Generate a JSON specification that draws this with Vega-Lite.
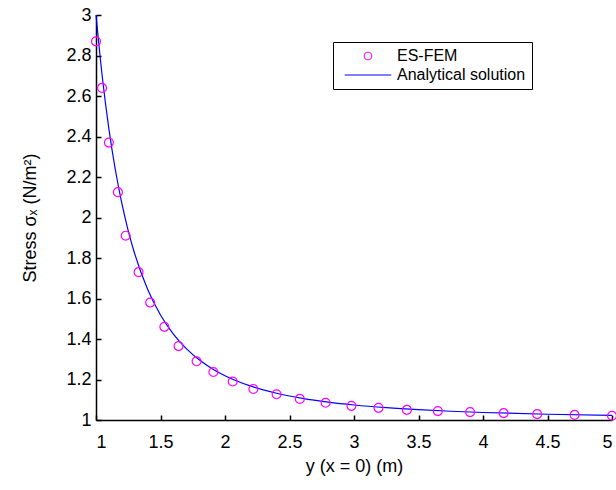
{
  "$schema": "https://vega.github.io/schema/vega-lite/v6.json",
  "autosize": "none",
  "width": 516,
  "height": 405,
  "padding": {"left": 96, "top": 15, "right": 4, "bottom": 70},
  "background": "white",
  "config": {
    "view": {"stroke": null},
    "font": "Liberation Sans",
    "axis": {"grid": false, "domainColor": "black", "tickColor": "black", "labelColor": "black", "titleColor": "black", "labelFont": "Liberation Sans", "titleFont": "Liberation Sans", "labelFontSize": 18, "titleFontSize": 18, "titleFontWeight": "normal", "tickSize": -5, "domainWidth": 1.5, "tickWidth": 1.5}
  },
  "data": {"values": [
    {"series": "ES-FEM", "y": 1.0, "s": 2.87},
    {"series": "ES-FEM", "y": 1.047, "s": 2.64},
    {"series": "ES-FEM", "y": 1.10, "s": 2.37},
    {"series": "ES-FEM", "y": 1.17, "s": 2.125},
    {"series": "ES-FEM", "y": 1.23, "s": 1.91},
    {"series": "ES-FEM", "y": 1.33, "s": 1.73},
    {"series": "ES-FEM", "y": 1.42, "s": 1.58},
    {"series": "ES-FEM", "y": 1.53, "s": 1.46},
    {"series": "ES-FEM", "y": 1.64, "s": 1.365},
    {"series": "ES-FEM", "y": 1.78, "s": 1.29},
    {"series": "ES-FEM", "y": 1.91, "s": 1.237},
    {"series": "ES-FEM", "y": 2.06, "s": 1.19},
    {"series": "ES-FEM", "y": 2.22, "s": 1.153},
    {"series": "ES-FEM", "y": 2.40, "s": 1.127},
    {"series": "ES-FEM", "y": 2.58, "s": 1.104},
    {"series": "ES-FEM", "y": 2.78, "s": 1.085},
    {"series": "ES-FEM", "y": 2.98, "s": 1.07},
    {"series": "ES-FEM", "y": 3.19, "s": 1.06},
    {"series": "ES-FEM", "y": 3.41, "s": 1.05},
    {"series": "ES-FEM", "y": 3.65, "s": 1.044},
    {"series": "ES-FEM", "y": 3.90, "s": 1.039},
    {"series": "ES-FEM", "y": 4.16, "s": 1.034},
    {"series": "ES-FEM", "y": 4.42, "s": 1.029},
    {"series": "ES-FEM", "y": 4.71, "s": 1.025},
    {"series": "ES-FEM", "y": 5.0, "s": 1.021},
    {"series": "Analytical solution", "y": 1.0, "s": 3.0},
    {"series": "Analytical solution", "y": 1.05, "s": 2.6876},
    {"series": "Analytical solution", "y": 1.1, "s": 2.4377},
    {"series": "Analytical solution", "y": 1.15, "s": 2.2357},
    {"series": "Analytical solution", "y": 1.2, "s": 2.0706},
    {"series": "Analytical solution", "y": 1.25, "s": 1.9344},
    {"series": "Analytical solution", "y": 1.3, "s": 1.8211},
    {"series": "Analytical solution", "y": 1.4, "s": 1.6456},
    {"series": "Analytical solution", "y": 1.5, "s": 1.5185},
    {"series": "Analytical solution", "y": 1.6, "s": 1.4242},
    {"series": "Analytical solution", "y": 1.7, "s": 1.3526},
    {"series": "Analytical solution", "y": 1.8, "s": 1.2972},
    {"series": "Analytical solution", "y": 1.9, "s": 1.2536},
    {"series": "Analytical solution", "y": 2.0, "s": 1.2188},
    {"series": "Analytical solution", "y": 2.2, "s": 1.1673},
    {"series": "Analytical solution", "y": 2.4, "s": 1.132},
    {"series": "Analytical solution", "y": 2.6, "s": 1.1068},
    {"series": "Analytical solution", "y": 2.8, "s": 1.0882},
    {"series": "Analytical solution", "y": 3.0, "s": 1.0741},
    {"series": "Analytical solution", "y": 3.25, "s": 1.0608},
    {"series": "Analytical solution", "y": 3.5, "s": 1.0508},
    {"series": "Analytical solution", "y": 3.75, "s": 1.0432},
    {"series": "Analytical solution", "y": 4.0, "s": 1.0371},
    {"series": "Analytical solution", "y": 4.5, "s": 1.0284},
    {"series": "Analytical solution", "y": 5.0, "s": 1.0224}
  ]},
  "encoding": {
    "x": {"field": "y", "type": "quantitative", "scale": {"domain": [1, 5], "nice": false, "zero": false},
      "axis": {"values": [1, 1.5, 2, 2.5, 3, 3.5, 4, 4.5, 5], "format": "~g", "title": "y (x = 0) (m)", "labelPadding": 18, "titlePadding": 6}},
    "y": {"field": "s", "type": "quantitative", "scale": {"domain": [1, 3], "nice": false, "zero": false},
      "axis": {"values": [1, 1.2, 1.4, 1.6, 1.8, 2, 2.2, 2.4, 2.6, 2.8, 3], "format": "~g", "title": "Stress σₓ (N/m²)", "labelPadding": 10, "titlePadding": 26}},
    "color": {"field": "series", "type": "nominal",
      "scale": {"domain": ["ES-FEM", "Analytical solution"], "range": ["#ff00ff", "#0000ff"]},
      "legend": {"title": null, "orient": "none", "legendX": 237, "legendY": 27, "strokeColor": "black", "fillColor": "white", "padding": 6, "labelFont": "Liberation Sans", "labelFontSize": 16, "labelColor": "black", "symbolStrokeWidth": 1, "symbolSize": 60, "symbolOffset": 21, "labelOffset": 21, "rowPadding": 3, "cornerRadius": 0}}
  },
  "layer": [
    {
      "transform": [{"filter": "datum.series === 'Analytical solution'"}],
      "mark": {"type": "line", "strokeWidth": 1.2, "interpolate": "monotone"}
    },
    {
      "transform": [{"filter": "datum.series === 'ES-FEM'"}],
      "mark": {"type": "point", "filled": false, "size": 80, "strokeWidth": 1.2, "opacity": 1},
      "encoding": {
        "shape": {"field": "series", "type": "nominal",
          "scale": {"domain": ["ES-FEM", "Analytical solution"], "range": ["circle", "M-6,0H6"]},
          "legend": {"title": null, "orient": "none", "legendX": 237, "legendY": 27}}
      }
    }
  ]
}
